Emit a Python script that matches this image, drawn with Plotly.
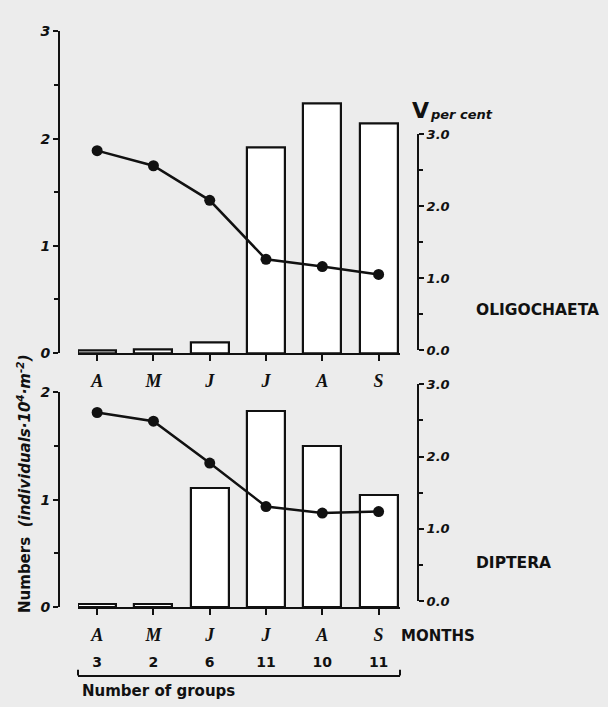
import plotly.graph_objects as go

months = ["A", "M", "J", "J", "A", "S"]
groups = ["3", "2", "6", "11", "10", "11"]
oligo_numbers = [0.025, 0.03, 0.10, 1.92, 2.33, 2.14]
oligo_v = [2.77, 2.56, 2.08, 1.26, 1.16, 1.05]
diptera_numbers = [0.025, 0.03, 1.11, 1.82, 1.50, 1.04]
diptera_v = [2.61, 2.49, 1.91, 1.31, 1.22, 1.24]

W, H = 608, 707
def px(x): return x / W
def py(y): return 1 - y / H

idx = list(range(len(months)))
BG = "#ececec"
INK = "#111111"
sans_bi = dict(family="DejaVu Sans", size=14, color=INK, weight="bold", style="italic")
serif_bi = dict(family="Liberation Serif", size=18, color=INK, weight="bold", style="italic")
label_font = dict(family="DejaVu Sans", size=15.5, color=INK, weight="bold")

fig = go.Figure()

# top panel: Oligochaeta
fig.add_trace(go.Bar(x=idx, y=oligo_numbers, width=0.675, xaxis="x", yaxis="y",
                     marker=dict(color="white", line=dict(color=INK, width=2.2)),
                     showlegend=False, hoverinfo="skip"))
fig.add_trace(go.Scatter(x=idx, y=oligo_v, xaxis="x", yaxis="y2", mode="lines+markers",
                         line=dict(color=INK, width=2.5), marker=dict(size=11, color=INK),
                         showlegend=False, hoverinfo="skip"))
# bottom panel: Diptera
fig.add_trace(go.Bar(x=idx, y=diptera_numbers, width=0.675, xaxis="x2", yaxis="y3",
                     marker=dict(color="white", line=dict(color=INK, width=2.2)),
                     showlegend=False, hoverinfo="skip"))
fig.add_trace(go.Scatter(x=idx, y=diptera_v, xaxis="x2", yaxis="y4", mode="lines+markers",
                         line=dict(color=INK, width=2.5), marker=dict(size=11, color=INK),
                         showlegend=False, hoverinfo="skip"))
# carrier for the "number of groups" axis
fig.add_trace(go.Scatter(x=idx, y=[None] * len(idx), xaxis="x3", yaxis="y3", mode="markers",
                         showlegend=False, hoverinfo="skip"))

xdom = [px(78), px(400)]
xrange_ = [-0.34, 5.38]
xcommon = dict(domain=xdom, range=xrange_, tickvals=idx, ticktext=months, showline=True,
               linecolor=INK, linewidth=2, ticks="outside", ticklen=6, tickwidth=2,
               tickcolor=INK, tickfont=serif_bi, showgrid=False, zeroline=False,
               ticklabelstandoff=4, fixedrange=True)
left_common = dict(showline=True, linecolor=INK, linewidth=2, ticks="outside", ticklen=5,
                   tickwidth=2, tickcolor=INK, dtick=1, tickfont=sans_bi, showgrid=False,
                   zeroline=False, anchor="free", position=px(59), side="left",
                   minor=dict(dtick=0.5, ticks="outside", ticklen=4, tickwidth=1.5, tickcolor=INK))
right_common = dict(showline=True, linecolor=INK, linewidth=2, ticks="outside", ticklen=5,
                    tickwidth=2, tickcolor=INK, dtick=1, tickformat=".1f",
                    tickfont=dict(sans_bi, size=13), showgrid=False, zeroline=False,
                    anchor="free", position=px(418), side="right", range=[0, 3],
                    minor=dict(dtick=0.5, ticks="outside", ticklen=4, tickwidth=1.5, tickcolor=INK))

fig.update_layout(
    width=W, height=H, margin=dict(l=0, r=0, t=0, b=0),
    paper_bgcolor=BG, plot_bgcolor="rgba(0,0,0,0)",
    xaxis=dict(xcommon, anchor="y"),
    yaxis=dict(left_common, domain=[py(353), py(24)], range=[0, 3]),
    yaxis2=dict(right_common, domain=[py(350), py(129)]),
    xaxis2=dict(xcommon, anchor="y3"),
    yaxis3=dict(left_common, domain=[py(613), py(393)], range=[0, 2]),
    yaxis4=dict(right_common, domain=[py(607), py(385)]),
    xaxis3=dict(overlaying="x2", domain=xdom, range=xrange_, anchor="free", position=py(683),
                side="top", tickvals=idx, ticktext=groups, showline=True, linecolor=INK,
                linewidth=2, ticks="", showgrid=False, zeroline=False, ticklabelstandoff=2,
                tickfont=dict(family="DejaVu Sans", size=14, color=INK, weight="bold"),
                fixedrange=True),
    bargap=0,
)

# bracket end ticks of the "number of groups" line
for xe in (78, 400):
    fig.add_shape(type="line", xref="paper", yref="paper", x0=px(xe), x1=px(xe),
                  y0=py(683), y1=py(677), line=dict(color=INK, width=2))

ann = [
    dict(text="V", x=px(410), y=py(105), font=dict(family="DejaVu Sans", size=22, color=INK, weight="bold")),
    dict(text="per cent", x=px(428), y=py(109), font=dict(family="DejaVu Sans", size=13, color=INK, weight="bold", style="italic")),
    dict(text="OLIGOCHAETA", x=px(474), y=py(309), font=label_font),
    dict(text="DIPTERA", x=px(474), y=py(568), font=label_font),
    dict(text="MONTHS", x=px(399), y=py(643), font=dict(label_font, size=15)),
    dict(text="Number of groups", x=px(80), y=py(699), font=dict(label_font, size=15)),
]
for a in ann:
    fig.add_annotation(xref="paper", yref="paper", xanchor="left", yanchor="middle",
                       showarrow=False, **a)

fig.add_annotation(xref="paper", yref="paper", x=px(24), y=py(487), xanchor="center",
                   yanchor="middle", showarrow=False, textangle=-90,
                   text="<b>Numbers</b>  <b><i>(individuals·10<sup>4</sup>·m<sup>-2</sup>)</i></b>",
                   font=dict(family="DejaVu Sans", size=15, color=INK))

fig.write_html("out.html", config={"displayModeBar": False},
               post_script="document.body.style.margin='0';document.body.style.overflow='hidden';")
